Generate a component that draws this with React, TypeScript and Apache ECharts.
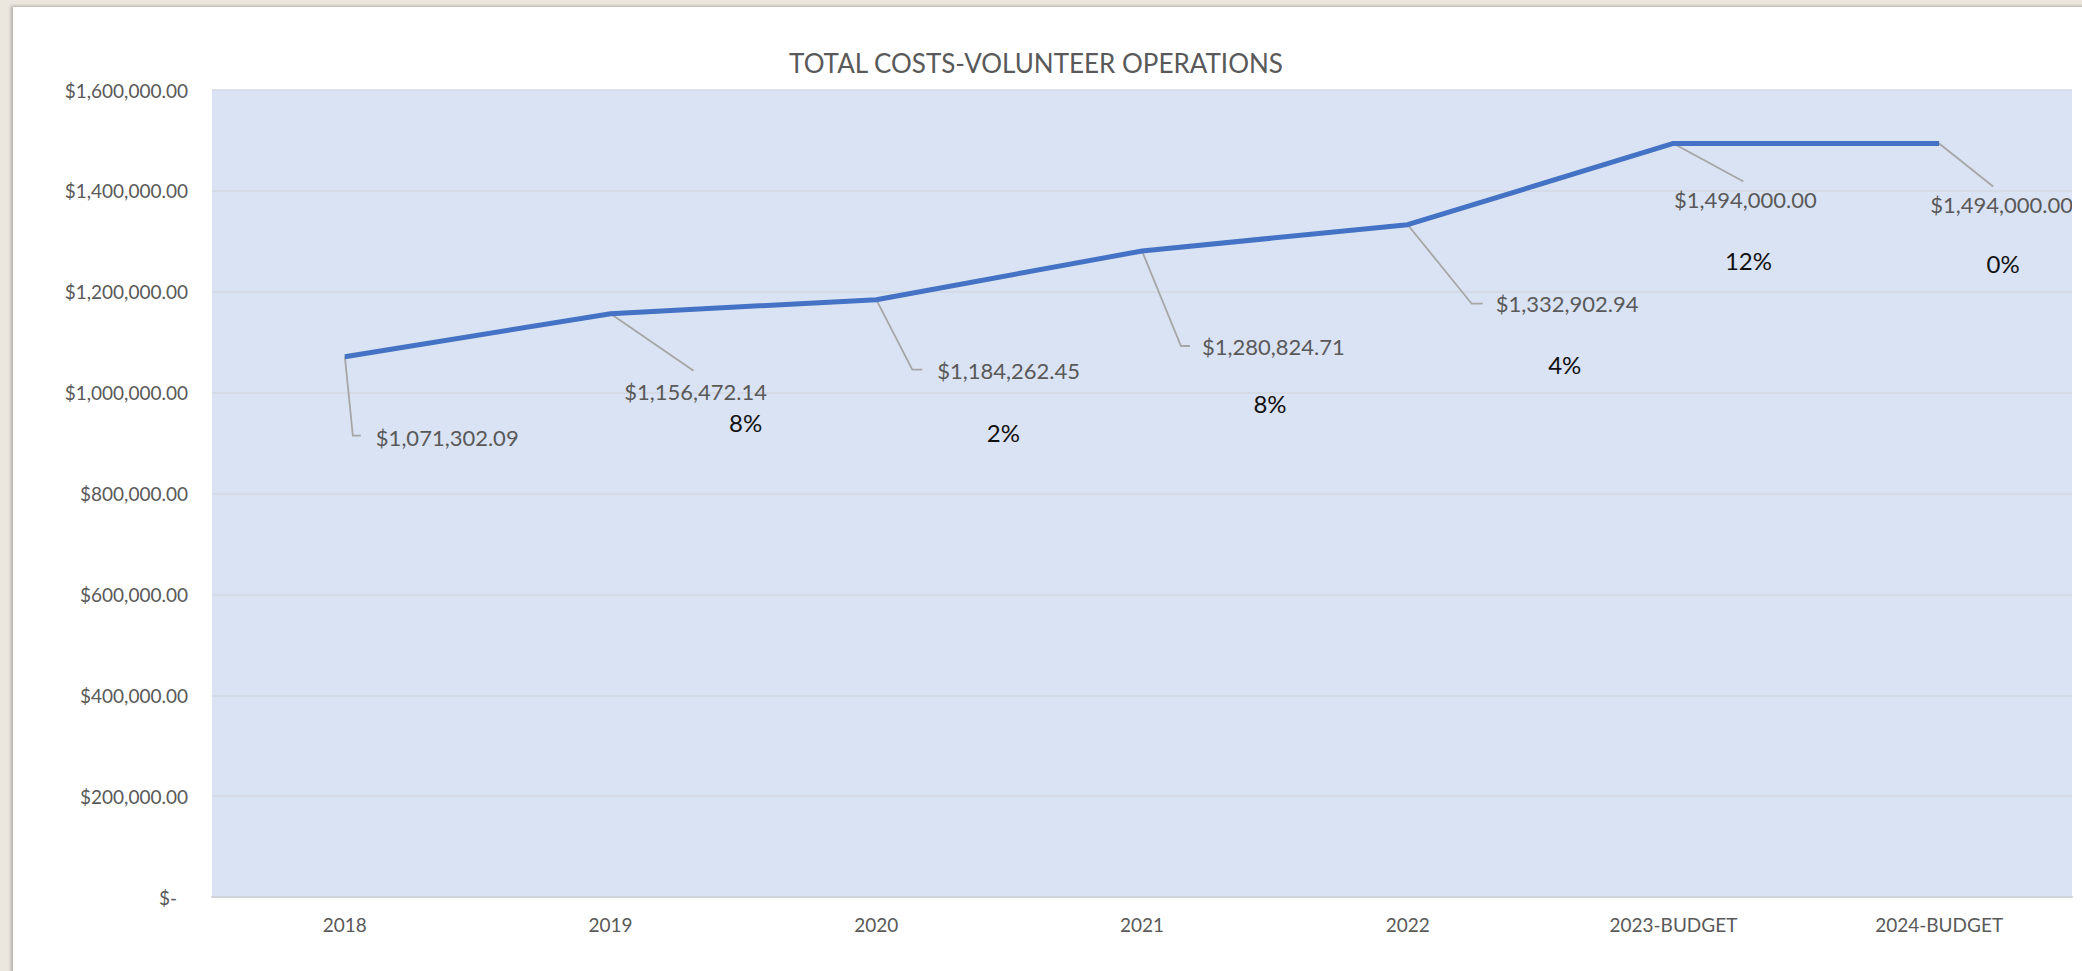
import React, { useEffect, useRef } from "react";
import * as echarts from "echarts";

// ---- data ----
const categories = ["2018", "2019", "2020", "2021", "2022", "2023-BUDGET", "2024-BUDGET"];
const totalCosts = [1071302.09, 1156472.14, 1184262.45, 1280824.71, 1332902.94, 1494000.0, 1494000.0];
const growthLabels = ["", "8%", "2%", "8%", "4%", "12%", "0%"];
const yMin = 0;
const yMax = 1600000;
const yInterval = 200000;

// ---- label layout: pixel offsets from each data point ----
const leaderPaths: number[][][] = [
  [[0, 0], [8, 79], [16, 79]],
  [[0, 0], [83, 57]],
  [[0, 0], [36, 70], [46, 70]],
  [[0, 0], [39, 95], [48, 95]],
  [[0, 0], [64, 79], [75, 79]],
  [[0, 0], [70, 38]],
  [[0, 0], [54, 43]],
];
const valueLabelPos = [
  { dx: 31, dy: 81, align: "left" },
  { dx: 85, dy: 78, align: "center" },
  { dx: 61, dy: 71, align: "left" },
  { dx: 60, dy: 96, align: "left" },
  { dx: 88, dy: 79, align: "left" },
  { dx: 72, dy: 56, align: "center" },
  { dx: -9, dy: 61, align: "left" },
];
const growthLabelPos: (number[] | null)[] = [null, [135, 109], [127, 133], [128, 153], [157, 140], [75, 117], [64, 120]];

const FONT = "Lato, 'Open Sans', sans-serif";
const GREY = "#595959";

const money = (v: number) =>
  "$" + v.toLocaleString("en-US", { minimumFractionDigits: 2, maximumFractionDigits: 2 });

export default function App() {
  const ref = useRef<HTMLDivElement>(null);

  useEffect(() => {
    if (!ref.current) return;
    const chart = echarts.init(ref.current, undefined, { renderer: "svg" });
    chart.setOption({
      animation: false,
      backgroundColor: "transparent",
      title: {
        text: "TOTAL COSTS-VOLUNTEER OPERATIONS",
        left: 1031,
        textAlign: "center",
        top: 45,
        textStyle: { color: GREY, fontSize: 26, fontWeight: "normal", fontFamily: FONT },
      },
      grid: {
        left: 212,
        right: 10,
        top: 90,
        bottom: 74,
        show: true,
        backgroundColor: "#DAE3F3",
        borderWidth: 0,
      },
      xAxis: {
        type: "category",
        data: categories,
        boundaryGap: true,
        axisLine: { show: true, lineStyle: { color: "#D0D4DA", width: 2 } },
        axisTick: { show: false },
        axisLabel: { color: GREY, fontSize: 19, fontFamily: FONT, margin: 18 },
      },
      yAxis: {
        type: "value",
        min: yMin,
        max: yMax,
        interval: yInterval,
        axisLine: { show: false },
        axisTick: { show: false },
        splitLine: { show: true, lineStyle: { color: "#D2D8E2", width: 1.5 } },
        axisLabel: {
          color: GREY,
          fontSize: 19,
          fontFamily: FONT,
          margin: 24,
          formatter: (v: number) => (v === 0 ? "{z|$-}" : money(v)),
          rich: { z: { color: GREY, fontSize: 19, fontFamily: FONT, padding: [0, 11, 0, 0] } },
        },
      },
      series: [
        {
          type: "line",
          data: totalCosts,
          symbol: "none",
          lineStyle: { color: "#4472C4", width: 5 },
          itemStyle: { color: "#4472C4" },
          z: 3,
        },
        {
          type: "custom",
          silent: true,
          clip: true,
          z: 2,
          data: totalCosts.map((v, i) => [i, v]),
          encode: { x: 0, y: 1 },
          renderItem: (params: any, api: any) => {
            const i = params.dataIndex;
            const pt = api.coord([api.value(0), api.value(1)]);
            const px = pt[0];
            const py = pt[1];
            const children: any[] = [];
            children.push({
              type: "polyline",
              shape: { points: leaderPaths[i].map((p) => [px + p[0], py + p[1]]) },
              style: { stroke: "#A6A6A6", lineWidth: 1.8, fill: "none" },
            });
            const lp = valueLabelPos[i];
            children.push({
              type: "text",
              x: px + lp.dx,
              y: py + lp.dy,
              style: {
                text: money(api.value(1)),
                fill: GREY,
                fontSize: 22,
                fontFamily: FONT,
                align: lp.align,
                verticalAlign: "middle",
              },
            });
            const gp = growthLabelPos[i];
            if (gp && growthLabels[i]) {
              children.push({
                type: "text",
                x: px + gp[0],
                y: py + gp[1],
                style: {
                  text: growthLabels[i],
                  fill: "#111111",
                  fontSize: 24,
                  fontFamily: FONT,
                  align: "center",
                  verticalAlign: "middle",
                },
              });
            }
            return { type: "group", children };
          },
        },
      ],
    });
    return () => chart.dispose();
  }, []);

  return (
    <div
      style={{
        position: "absolute",
        left: 0,
        top: 0,
        width: 2082,
        height: 971,
        background: "#ECE7DE",
        overflow: "hidden",
      }}
    >
      <div
        style={{
          position: "absolute",
          left: 13,
          top: 7,
          width: 2100,
          height: 1000,
          background: "#FFFFFF",
          boxShadow: "-2px -1px 3px rgba(0,0,0,0.25)",
        }}
      />
      <div ref={ref} style={{ position: "absolute", left: 0, top: 0, width: 2082, height: 971 }} />
    </div>
  );
}
